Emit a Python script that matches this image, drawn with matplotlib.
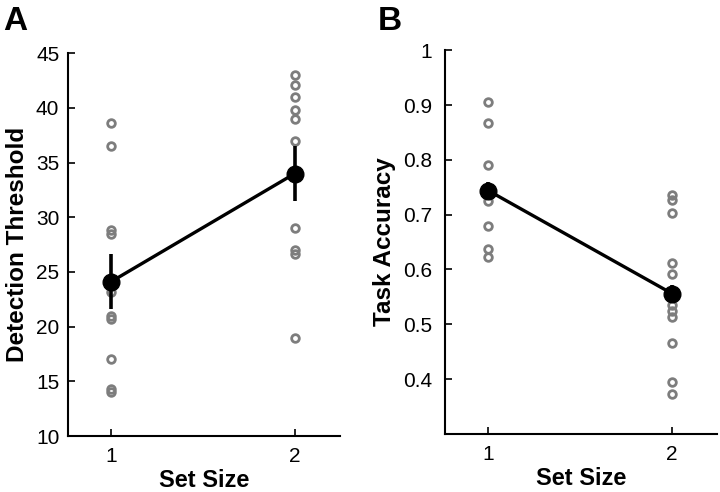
import numpy as np
import matplotlib
matplotlib.use("Agg")
from matplotlib import pyplot as plt

plt.rcParams['font.family'] = ['Liberation Sans', 'DejaVu Sans']

set_sizes = [1, 2]

# panel A: detection threshold, individual subjects
thr_ss1 = [38.6, 36.5, 28.8, 28.5, 23.2, 21.0, 20.7, 17.0, 14.3, 14.0]
thr_ss2 = [43.0, 42.1, 41.0, 39.8, 39.0, 37.0, 29.0, 27.0, 26.6, 19.0]
thr_mean = [24.1, 34.0]
thr_err = [2.5, 2.5]

# panel B: task accuracy, individual subjects
acc_ss1 = [0.905, 0.867, 0.791, 0.740, 0.724, 0.679, 0.638, 0.623]
acc_ss2 = [0.735, 0.726, 0.703, 0.612, 0.592, 0.560, 0.535, 0.525, 0.513,
           0.465, 0.394, 0.373]
acc_mean = [0.744, 0.556]
acc_err = [0.015, 0.015]

GRAY = '#7d7d7d'


def draw_panel(ax, ss1, ss2, mean, err):
    ax.plot([set_sizes[0]] * len(ss1), ss1, 'o', mfc='none', mec=GRAY,
            ms=5.5, mew=2.0, zorder=2)
    ax.plot([set_sizes[1]] * len(ss2), ss2, 'o', mfc='none', mec=GRAY,
            ms=5.5, mew=2.0, zorder=2)
    ax.errorbar(set_sizes, mean, yerr=err, color='k', lw=2.4, elinewidth=2.6,
                capsize=0, marker='o', ms=12, zorder=3)
    ax.spines['top'].set_visible(False)
    ax.spines['right'].set_visible(False)
    for s in ['left', 'bottom']:
        ax.spines[s].set_linewidth(1.5)
    ax.tick_params(direction='in', length=5, width=1.2, labelsize=15)
    ax.tick_params(axis='x', pad=8)
    ax.tick_params(axis='y', pad=6)
    ax.set_xlim(0.765, 2.245)
    ax.set_xticks(set_sizes)
    ax.set_xlabel('Set Size', fontsize=17, fontweight='bold', labelpad=2)


fig = plt.figure(figsize=(7.2, 4.92), dpi=100)

axA = fig.add_axes([0.094, 0.1138, 0.378, 0.778])
draw_panel(axA, thr_ss1, thr_ss2, thr_mean, thr_err)
axA.set_ylim(10, 45)
axA.set_yticks(np.arange(10, 46, 5))
axA.set_ylabel('Detection Threshold', fontsize=17.5, fontweight='bold',
               labelpad=5)

axB = fig.add_axes([0.618, 0.118, 0.378, 0.780])
draw_panel(axB, acc_ss1, acc_ss2, acc_mean, acc_err)
axB.set_ylim(0.3, 1.0)
axB.set_yticks([0.4, 0.5, 0.6, 0.7, 0.8, 0.9, 1.0])
axB.set_yticklabels(['0.4', '0.5', '0.6', '0.7', '0.8', '0.9', '1'])
axB.tick_params(axis='y', pad=9)
axB.set_ylabel('Task Accuracy', fontsize=17.5, fontweight='bold', labelpad=5)

fig.text(0.004, 0.939, 'A', fontsize=24, fontweight='bold')
fig.text(0.525, 0.939, 'B', fontsize=24, fontweight='bold')

fig.savefig('out.png', dpi=100)
